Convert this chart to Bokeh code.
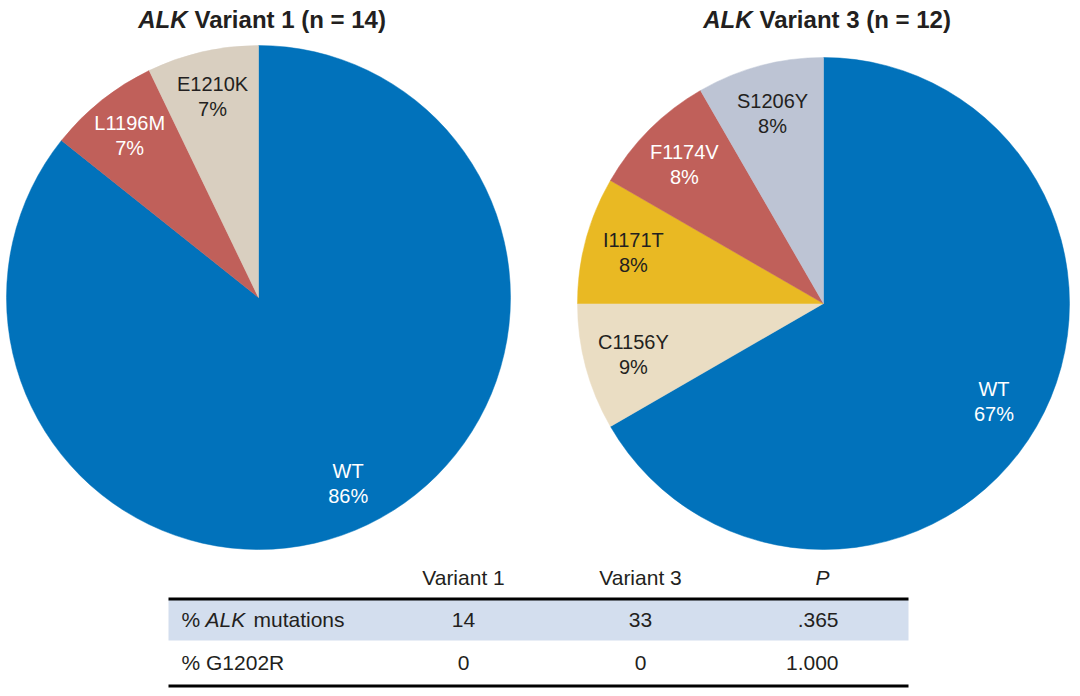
from bokeh.plotting import figure
from bokeh.models import Range1d, ColumnDataSource
from bokeh.core.properties import value
from bokeh.embed import file_html
from bokeh.resources import INLINE
import math

# ---------------- data ----------------
v1_labels = ["WT", "L1196M", "E1210K"]
v1_counts = [12, 1, 1]
v1_pcts = ["86%", "7%", "7%"]
v1_colors = ["#0172BB", "#C0605A", "#D9CFC0"]
v1_text_colors = ["white", "white", "#231F20"]
v1_title_n = 14

v3_labels = ["WT", "C1156Y", "I1171T", "F1174V", "S1206Y"]
v3_counts = [8, 1, 1, 1, 1]
v3_pcts = ["67%", "9%", "8%", "8%", "8%"]
v3_colors = ["#0172BB", "#EADDC3", "#E9B923", "#C0605A", "#BDC4D4"]
v3_text_colors = ["white", "#231F20", "#231F20", "white", "#231F20"]
v3_title_n = 12

table_header = ["Variant 1", "Variant 3", "P"]
table_rows = ["% ALK mutations", "% G1202R"]
table_v1 = ["14", "0"]
table_v3 = ["33", "0"]
table_p = [".365", "1.000"]

FONT = "Liberation Sans"
DARK = "#231F20"
H = 696  # data y = H - image y

p = figure(width=1080, height=696, x_range=Range1d(0, 1080), y_range=Range1d(0, 696),
           output_backend="svg", toolbar_location=None, min_border=0,
           x_axis_location=None, y_axis_location=None)
p.grid.visible = False
p.outline_line_color = None
p.background_fill_color = "white"
p.border_fill_color = "white"


def draw_pie(cx, cy, r, labels, counts, pcts, colors, tcolors, variant, n, frac):
    total = float(sum(counts))
    starts, ends, lx, ly1, ly2 = [], [], [], [], []
    cum = 0.0
    for c in counts:
        a0 = math.pi / 2 - 2 * math.pi * cum / total
        cum += c
        a1 = math.pi / 2 - 2 * math.pi * cum / total
        starts.append(a0)
        ends.append(a1)
        mid = (a0 + a1) / 2
        x = cx + frac * r * math.cos(mid)
        y = cy + frac * r * math.sin(mid)
        lx.append(x)
        ly1.append(y + 12.5)
        ly2.append(y - 12.5)
    src = ColumnDataSource(dict(start=starts, end=ends, color=colors, lab=labels,
                                pct=pcts, tc=tcolors, lx=lx, ly1=ly1, ly2=ly2))
    p.wedge(x=cx, y=cy, radius=r, start_angle="start", end_angle="end",
            direction="clock", fill_color="color", line_color="color",
            line_width=0.5, source=src)
    p.text(x="lx", y="ly1", text="lab", text_color="tc", text_font=value(FONT),
           text_font_size="20px", text_align="center", text_baseline="middle", source=src)
    p.text(x="lx", y="ly2", text="pct", text_color="tc", text_font=value(FONT),
           text_font_size="20px", text_align="center", text_baseline="middle", source=src)
    # title
    split = cx - 71
    ty = H - 19
    p.text(x=[split], y=[ty], text=["ALK"], text_font=value(FONT), text_font_style="bold italic",
           text_font_size="24px", text_align="right", text_baseline="middle", text_color=DARK)
    p.text(x=[split + 7], y=[ty], text=[f"Variant {variant} (n = {n})"], text_font=value(FONT),
           text_font_style="bold", text_font_size="24px", text_align="left",
           text_baseline="middle", text_color=DARK)


draw_pie(258, H - 297, 252, v1_labels, v1_counts, v1_pcts, v1_colors, v1_text_colors, 1, v1_title_n, 0.82)
draw_pie(823, H - 303, 246, v3_labels, v3_counts, v3_pcts, v3_colors, v3_text_colors, 3, v3_title_n, 0.8)

# ---------------- table ----------------
left, right = 168, 908
col_x = [463, 640, 822]
header_y = H - 577
row_y = [H - 619, H - 662]
TFS = "21px"

# band
p.quad(left=[left], right=[right], top=[H - 599], bottom=[H - 640],
       fill_color="#D3DEEE", line_color=None)
# rules
p.segment(x0=[left, left], x1=[right, right], y0=[H - 598.5, H - 685.5],
          y1=[H - 598.5, H - 685.5], line_color="black", line_width=3)

for i, h in enumerate(table_header):
    p.text(x=[col_x[i]], y=[header_y], text=[h], text_font=value(FONT),
           text_font_style="italic" if h == "P" else "normal",
           text_font_size=TFS, text_align="center", text_baseline="middle", text_color=DARK)

# row labels (ALK in italics)
r0 = table_rows[0]
pre, rest = [s.strip() for s in r0.split("ALK")]
p.text(x=[181], y=[row_y[0]], text=[pre], text_font=value(FONT), text_font_size=TFS,
       text_align="left", text_baseline="middle", text_color=DARK)
p.text(x=[205], y=[row_y[0]], text=["ALK"], text_font=value(FONT), text_font_style="italic",
       text_font_size=TFS, text_align="left", text_baseline="middle", text_color=DARK)
p.text(x=[253], y=[row_y[0]], text=[rest], text_font=value(FONT), text_font_size=TFS,
       text_align="left", text_baseline="middle", text_color=DARK)
p.text(x=[181], y=[row_y[1]], text=[table_rows[1]], text_font=value(FONT), text_font_size=TFS,
       text_align="left", text_baseline="middle", text_color=DARK)

tsrc = ColumnDataSource(dict(y=row_y, v1=table_v1, v3=table_v3, pv=table_p))
p.text(x=col_x[0], y="y", text="v1", source=tsrc, text_font=value(FONT), text_font_size=TFS,
       text_align="center", text_baseline="middle", text_color=DARK)
p.text(x=col_x[1], y="y", text="v3", source=tsrc, text_font=value(FONT), text_font_size=TFS,
       text_align="center", text_baseline="middle", text_color=DARK)
p.text(x=838, y="y", text="pv", source=tsrc, text_font=value(FONT), text_font_size=TFS,
       text_align="right", text_baseline="middle", text_color=DARK)

open("out.html", "w").write(file_html(p, INLINE))
